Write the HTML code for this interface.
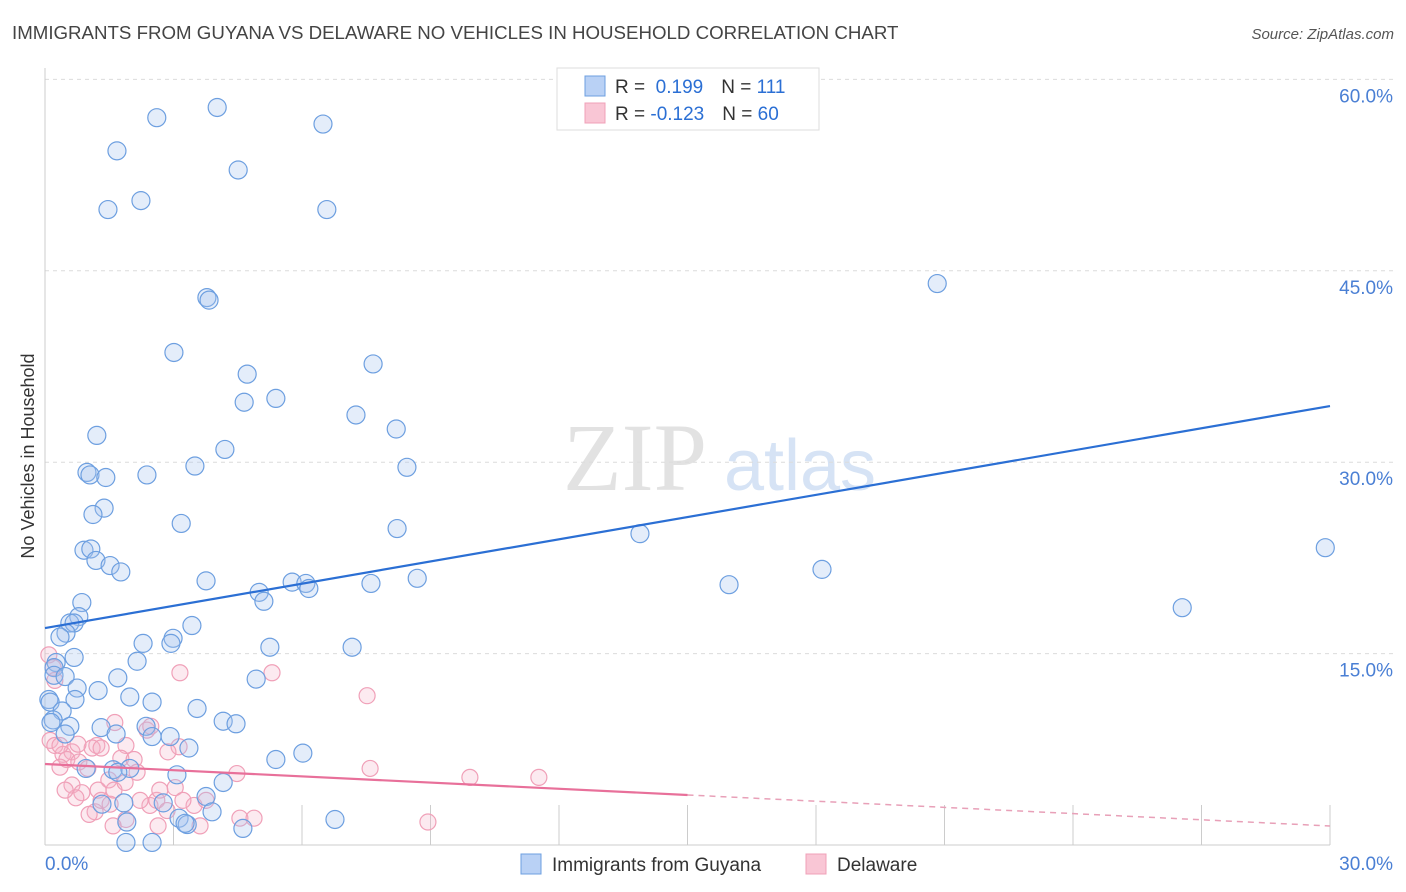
<!DOCTYPE html>
<html><head><meta charset="utf-8"><style>
html,body{margin:0;padding:0;background:#fff;}
svg{display:block;font-family:"Liberation Sans",sans-serif;}
</style></head><body>
<svg id="chart" width="1406" height="892" viewBox="0 0 1406 892" xmlns="http://www.w3.org/2000/svg">
<text x="12" y="39" font-size="18.7" fill="#444">IMMIGRANTS FROM GUYANA VS DELAWARE NO VEHICLES IN HOUSEHOLD CORRELATION CHART</text>
<text x="1394" y="39" font-size="15" fill="#555" font-style="italic" text-anchor="end">Source: ZipAtlas.com</text>
<g>
<text x="635" y="490" font-size="96" fill="#e2e2e2" font-family="Liberation Serif,serif" text-anchor="middle">ZIP</text>
<text x="800" y="490" font-size="72" fill="#d6e3f5" text-anchor="middle">atlas</text>
</g>
<g id="grid"></g>
<g id="axes"></g>
<g id="pts"></g>
<g id="lines"></g>
<g>
<rect x="557" y="68" width="262" height="62" fill="#fff" stroke="#ddd"/>
<rect x="585" y="76" width="20" height="20" fill="#b9d1f5" stroke="#6d9fe0"/>
<rect x="585" y="103" width="20" height="20" fill="#f9c6d5" stroke="#f0a0b8"/>
<text x="615" y="93" font-size="19" fill="#333">R = <tspan fill="#2b6fd4">&#160;0.199</tspan><tspan dx="18">N = </tspan><tspan fill="#2b6fd4">111</tspan></text>
<text x="615" y="120" font-size="19" fill="#333">R = <tspan fill="#2b6fd4">-0.123</tspan><tspan dx="18">N = </tspan><tspan fill="#2b6fd4">60</tspan></text>
</g>
<g>
<rect x="521" y="854" width="20" height="20" fill="#b9d1f5" stroke="#6d9fe0"/>
<text x="552" y="871" font-size="19" fill="#333">Immigrants from Guyana</text>
<rect x="806" y="854" width="20" height="20" fill="#f9c6d5" stroke="#f0a0b8"/>
<text x="837" y="871" font-size="19" fill="#333">Delaware</text>
</g>
<text transform="translate(34,456) rotate(-90)" font-size="18" fill="#333" text-anchor="middle">No Vehicles in Household</text>
</svg>
<script>
const blueX=[4.02,2.61,1.68,6.49,4.51,1.47,2.24,6.58,20.83,3.78,3.83,3.01,7.66,4.72,5.39,4.65,7.26,8.20,1.21,4.20,3.50,8.45,0.98,1.05,1.42,2.38,1.38,1.12,3.18,8.22,13.89,0.91,1.07,29.89,1.19,1.52,1.77,18.14,3.76,8.69,5.77,6.09,6.16,7.61,5.00,15.97,5.11,0.86,26.55,0.79,0.58,0.68,3.43,0.49,0.35,2.29,2.99,2.94,5.25,7.17,0.68,2.15,0.26,0.21,0.21,0.47,1.70,4.93,0.75,1.24,1.98,2.50,0.70,0.09,0.12,3.55,0.40,4.16,4.46,0.19,0.14,0.58,1.31,2.36,1.66,2.50,0.47,2.92,3.36,6.02,5.39,0.96,1.59,1.98,3.08,1.70,4.16,3.76,2.76,1.84,1.33,3.13,3.32,3.27,1.91,4.62,6.77,2.50,1.89,3.90];
const blueY=[57.8,57.0,54.4,56.5,52.9,49.8,50.5,49.8,44.0,42.9,42.7,38.6,37.7,36.9,35.0,34.7,33.7,32.6,32.1,31.0,29.7,29.6,29.2,29.0,28.8,29.0,26.4,25.9,25.2,24.8,24.4,23.1,23.2,23.3,22.3,21.9,21.4,21.6,20.7,20.9,20.6,20.5,20.1,20.5,19.8,20.4,19.1,19.0,18.6,17.9,17.4,17.4,17.2,16.6,16.3,15.8,16.2,15.8,15.5,15.5,14.7,14.4,14.3,13.9,13.3,13.2,13.1,13.0,12.3,12.1,11.6,11.2,11.4,11.4,11.2,10.7,10.5,9.7,9.5,9.8,9.6,9.3,9.2,9.3,8.7,8.5,8.7,8.5,7.6,7.2,6.7,6.0,5.9,6.0,5.5,5.7,4.9,3.8,3.3,3.3,3.2,2.1,1.6,1.7,1.8,1.3,2.0,0.2,0.2,2.6];
const pinkX=[0.09,0.19,0.23,0.12,0.23,0.42,0.63,0.51,0.35,0.79,1.00,1.21,1.10,0.77,1.31,1.63,1.89,1.77,2.08,1.49,1.61,1.24,0.63,0.86,0.72,1.87,2.15,2.38,2.47,2.45,2.61,2.68,2.85,3.04,3.13,3.15,2.87,3.48,3.62,3.22,2.64,1.89,1.59,3.76,4.48,4.55,4.88,5.30,7.52,7.59,8.94,9.92,11.53,1.17,1.31,1.03,0.35,0.47,2.22,1.52];
const pinkY=[14.9,13.9,12.9,8.2,7.8,7.1,7.3,6.7,6.1,6.5,6.0,7.8,7.6,7.9,7.6,9.6,7.8,6.8,6.7,5.1,4.3,4.3,4.7,4.1,3.7,4.9,5.7,9.0,9.3,3.1,3.5,4.3,2.7,4.5,7.7,13.5,7.3,3.1,1.5,3.5,1.5,2.0,1.5,3.5,5.6,2.1,2.1,13.5,11.7,6.0,1.8,5.3,5.3,2.6,3.5,2.4,7.8,4.3,3.5,3.2];
const blueTrend=[17.0,34.4];
const pinkTrend=[6.35,1.49];
const yTicks=[15,30,45,60];
const yTickLabels=["15.0%","30.0%","45.0%","60.0%"];
const xTicks=[0,3,6,9,12,15,18,21,24,27,30];

const NS="http://www.w3.org/2000/svg";
const X0=45,X1=1330,Y0=845,YPX=191.4/15;
const sx=v=>X0+(X1-X0)*v/30;
const sy=v=>Y0-v*YPX;
function mk(tag,attrs,parent){const e=document.createElementNS(NS,tag);for(const k in attrs)e.setAttribute(k,attrs[k]);parent.appendChild(e);return e;}
const grid=document.getElementById('grid'),axes=document.getElementById('axes'),pts=document.getElementById('pts'),lines=document.getElementById('lines');
yTicks.forEach((t,i)=>{
  const l=mk('line',{x1:X0,x2:1394,y1:sy(t),y2:sy(t),stroke:'#dcdcdc','stroke-dasharray':'4,4'},grid);
  
  
  const tx=mk('text',{x:1393,y:sy(t)+23,'font-size':19,fill:'#4a7fd4','text-anchor':'end'},axes);
  tx.textContent=yTickLabels[i];
  
  
});
mk('line',{x1:X0,x2:X0,y1:68,y2:Y0,stroke:'#ccc'},axes);
mk('line',{x1:X0,x2:X1,y1:Y0,y2:Y0,stroke:'#ccc'},axes);
xTicks.forEach(t=>{
  const l=mk('line',{x1:sx(t),x2:sx(t),y1:Y0-40,y2:Y0,stroke:'#ccc'},axes);
  
  
});
const xl=mk('text',{x:45,y:870,'font-size':19,fill:'#4a7fd4'},axes);xl.textContent='0.0%';


const xr=mk('text',{x:1393,y:870,'font-size':19,fill:'#4a7fd4','text-anchor':'end'},axes);xr.textContent='30.0%';


pinkX.forEach((v,i)=>{
  const c=mk('circle',{cx:sx(v),cy:sy(pinkY[i]),r:8,fill:'rgba(246,180,200,0.28)',stroke:'#f0a0b8','stroke-width':1.2},pts);
  
  
});
blueX.forEach((v,i)=>{
  const c=mk('circle',{cx:sx(v),cy:sy(blueY[i]),r:9,fill:'rgba(164,196,240,0.3)',stroke:'#6d9fe0','stroke-width':1.2},pts);
  
  
});
const bl=mk('line',{x1:sx(0),y1:sy(blueTrend[0]),x2:sx(30),y2:sy(blueTrend[1]),stroke:'#2b6fd4','stroke-width':2.2},lines);


const pm=pinkTrend[0]+(pinkTrend[1]-pinkTrend[0])*15/30;
const p1=mk('line',{x1:sx(0),y1:sy(pinkTrend[0]),x2:sx(15),y2:sy(pm),stroke:'#e8709a','stroke-width':2.2},lines);


const p2=mk('line',{x1:sx(15),y1:sy(pm),x2:sx(30),y2:sy(pinkTrend[1]),stroke:'#e8a0b8','stroke-width':1.5,'stroke-dasharray':'6,5'},lines);


</script>
</body></html>
